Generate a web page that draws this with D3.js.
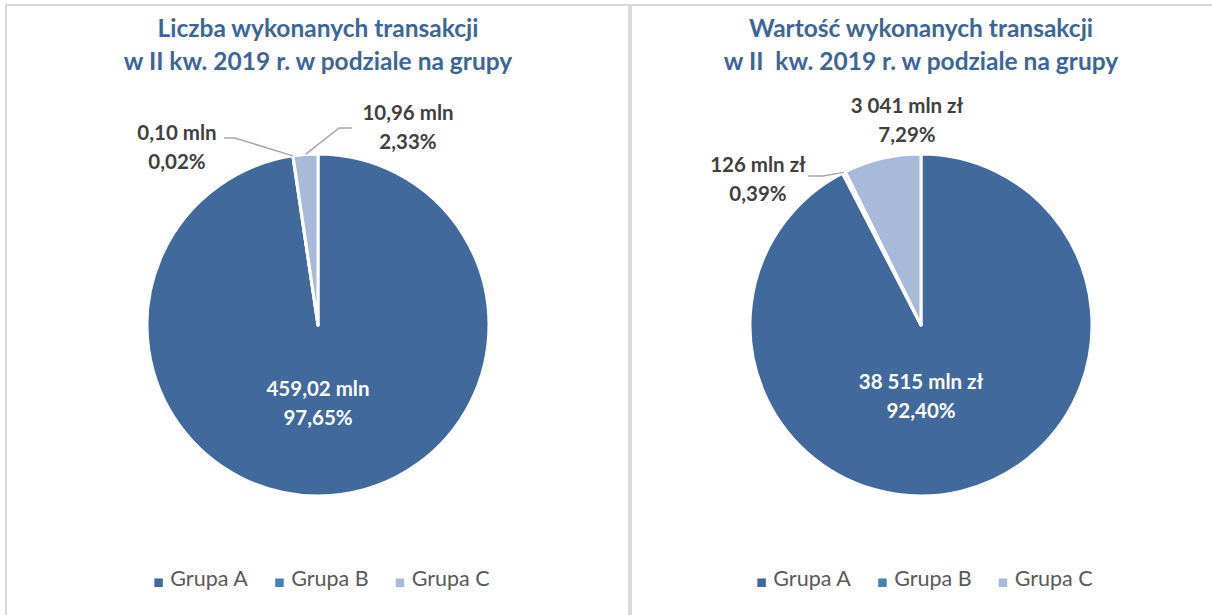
<!DOCTYPE html>
<html>
<head>
<meta charset="utf-8">
<script src="https://cdn.jsdelivr.net/npm/d3@7"></script>
<style>
  body { margin: 0; background: #fff; }
  svg { display: block; font-family: Lato, "Open Sans", sans-serif; }
</style>
</head>
<body>
<script>
// Data
var groups = ["Grupa A", "Grupa B", "Grupa C"];
var countValues = [459.02, 0.10, 10.96];
var countLabels = ["459,02 mln", "0,10 mln", "10,96 mln"];
var countPercent = ["97,65%", "0,02%", "2,33%"];
var valueValues = [38515, 126, 3041];
var valueLabels = ["38 515 mln zł", "126 mln zł", "3 041 mln zł"];
var valuePercent = ["92,40%", "0,39%", "7,29%"];
var titlesLeft = ["Liczba wykonanych transakcji", "w II kw. 2019 r. w podziale na grupy"];
var titlesRight = ["Wartość wykonanych transakcji", "w II  kw. 2019 r. w podziale na grupy"];

var colors = d3.scaleOrdinal().domain(groups).range(["#41699b", "#4a7ebb", "#a9b9d9"]);

var svgWidth = 1212, svgHeight = 615;
var radius = 171;

var svg = d3.select("body").append("svg")
  .attr("width", svgWidth)
  .attr("height", svgHeight);

// panel borders
svg.append("rect").attr("x", 6).attr("y", 5).attr("width", 623).attr("height", 640)
  .attr("fill", "none").attr("stroke", "#d9d9d9").attr("stroke-width", 2);
svg.append("rect").attr("x", 631).attr("y", 5).attr("width", 620).attr("height", 640)
  .attr("fill", "none").attr("stroke", "#d9d9d9").attr("stroke-width", 2);

// label layout: offset of label centre from pie centre, and leader elbow (null = no leader)
var leftLayout = [
  { dx: 0, dy: 71, inside: true },
  { dx: -141, dy: -185, leader: [[-83, -187], [-94, -187]] },
  { dx: 90, dy: -205, leader: [[21, -197], [34, -197]] }
];
var rightLayout = [
  { dx: 0, dy: 64, inside: true },
  { dx: -163, dy: -153, leader: [[-98, -149], [-113, -149]] },
  { dx: -14, dy: -212 }
];

function drawPanel(cx, titles, values, labels, pcts, layout) {
  var g = svg.append("g");

  g.selectAll(".title").data(titles).enter().append("text")
    .attr("x", cx).attr("y", function(d, i) { return 37 + i * 33; })
    .attr("text-anchor", "middle")
    .attr("font-size", 24.5).attr("font-weight", "bold")
    .attr("fill", "#3e6597")
    .attr("xml:space", "preserve")
    .text(function(d) { return d; });

  var pie = d3.pie().sort(null).value(function(d) { return d; });
  var arc = d3.arc().innerRadius(0).outerRadius(radius);
  var arcs = pie(values);

  var pieG = g.append("g").attr("transform", "translate(" + cx + ",325)");

  pieG.selectAll("path").data(arcs).enter().append("path")
    .attr("d", arc)
    .attr("fill", function(d, i) { return colors(groups[i]); })
    .attr("stroke", "#fff").attr("stroke-width", 3).attr("stroke-linejoin", "round");

  arcs.forEach(function(a, i) {
    var lay = layout[i];
    var mid = (a.startAngle + a.endAngle) / 2;
    if (lay.leader) {
      var p0 = [radius * Math.sin(mid), -radius * Math.cos(mid)];
      pieG.append("polyline")
        .attr("points", [p0].concat(lay.leader).map(function(p) { return p.join(","); }).join(" "))
        .attr("fill", "none").attr("stroke", "#a6a6a6").attr("stroke-width", 1.5);
    }
    var t = pieG.append("text")
      .attr("text-anchor", "middle")
      .attr("font-size", 20.5).attr("font-weight", "bold")
      .attr("fill", lay.inside ? "#fff" : "#404040");
    t.append("tspan").attr("x", lay.dx).attr("y", lay.dy).text(labels[i]);
    t.append("tspan").attr("x", lay.dx).attr("y", lay.dy + 29).text(pcts[i]);
  });

  // legend
  var leg = g.append("g");
  var items = leg.selectAll("g").data(groups).enter().append("g");
  items.append("rect").attr("y", -7.5).attr("width", 8.5).attr("height", 8.5)
    .attr("fill", function(d) { return colors(d); });
  items.append("text").attr("x", 16).attr("y", 0)
    .attr("font-size", 21.5).attr("fill", "#595959")
    .text(function(d) { return d; });
  var x = 0;
  items.each(function() {
    var w = this.getBBox().width;
    d3.select(this).attr("transform", "translate(" + x + ",0)");
    x += w + 27;
  });
  var total = x - 27;
  leg.attr("transform", "translate(" + (cx + 4 - total / 2) + ",586)");
}

drawPanel(318, titlesLeft, countValues, countLabels, countPercent, leftLayout);
drawPanel(921, titlesRight, valueValues, valueLabels, valuePercent, rightLayout);
</script>
</body>
</html>
